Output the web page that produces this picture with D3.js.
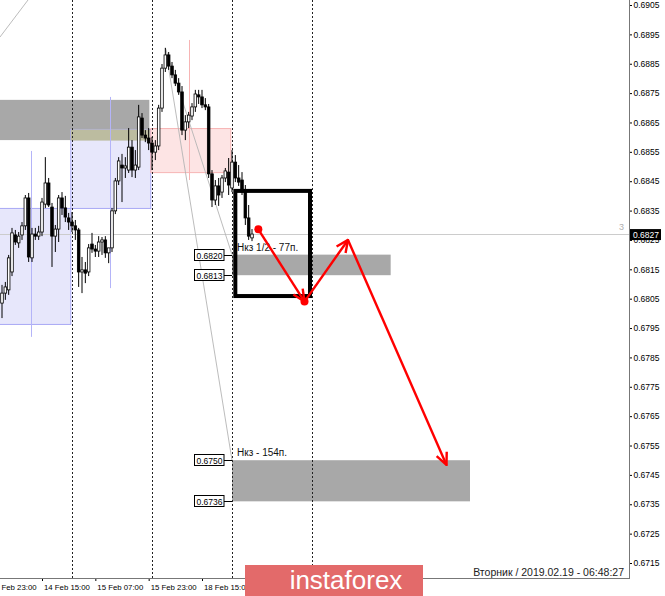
<!DOCTYPE html>
<html><head><meta charset="utf-8">
<script src="https://cdn.jsdelivr.net/npm/d3@7"></script>
<style>
body{margin:0;background:#fff;}
svg{display:block;font-family:"Liberation Sans",Arial,sans-serif;}
</style></head>
<body><svg id="c" width="665" height="596"></svg>
<script>
// ---- data (H1 bars, index 0 = 14 Feb 03:00 ... index 75 = 19 Feb 06:00) ----
const opens = [0.68035,0.68069,0.68080,0.68141,0.68267,0.68240,0.68267,0.68298,0.68393,0.68189,
0.68270,0.68263,0.68277,0.68372,0.68444,0.68362,0.68263,0.68287,0.68393,0.68359,
0.68325,0.68311,0.68298,0.68284,0.68141,0.68148,0.68141,0.68236,0.68219,0.68212,
0.68243,0.68250,0.68206,0.68223,0.68349,0.68451,0.68505,0.68495,0.68488,0.68566,
0.68488,0.68498,0.68665,0.68607,0.68597,0.68580,0.68549,0.68570,0.68699,0.68835,
0.68880,0.68842,0.68812,0.68784,0.68754,0.68624,0.68652,0.68672,0.68703,0.68744,
0.68737,0.68710,0.68703,0.68475,0.68386,0.68434,0.68413,0.68461,0.68481,0.68427,
0.68515,0.68461,0.68454,0.68413,0.68325,0.68257];
const highs = [0.68097,0.68107,0.68199,0.68291,0.68284,0.68277,0.68311,0.68403,0.68410,0.68291,
0.68291,0.68298,0.68393,0.68532,0.68461,0.68376,0.68301,0.68403,0.68413,0.68400,
0.68342,0.68345,0.68318,0.68291,0.68192,0.68175,0.68236,0.68274,0.68233,0.68263,
0.68260,0.68263,0.68223,0.68359,0.68461,0.68532,0.68543,0.68532,0.68631,0.68590,
0.68556,0.68710,0.68682,0.68624,0.68631,0.68601,0.68590,0.68710,0.68849,0.68904,
0.68890,0.68856,0.68829,0.68801,0.68774,0.68675,0.68686,0.68716,0.68761,0.68761,
0.68761,0.68733,0.68713,0.68488,0.68454,0.68461,0.68471,0.68495,0.68529,0.68556,
0.68539,0.68505,0.68481,0.68437,0.68369,0.68287];
const lows = [0.67984,0.68046,0.68063,0.68127,0.68233,0.68223,0.68250,0.68284,0.68175,0.68175,
0.68250,0.68250,0.68263,0.68359,0.68362,0.68158,0.68209,0.68243,0.68335,0.68311,
0.68284,0.68277,0.68250,0.68090,0.68069,0.68103,0.68127,0.68206,0.68192,0.68192,
0.68199,0.68189,0.68171,0.68209,0.68338,0.68437,0.68379,0.68461,0.68478,0.68464,
0.68461,0.68488,0.68597,0.68583,0.68556,0.68488,0.68522,0.68556,0.68686,0.68822,
0.68829,0.68801,0.68774,0.68744,0.68607,0.68590,0.68631,0.68658,0.68686,0.68713,
0.68699,0.68692,0.68461,0.68362,0.68369,0.68366,0.68393,0.68447,0.68403,0.68413,
0.68447,0.68434,0.68403,0.68301,0.68250,0.68246];
const closes = [0.68069,0.68090,0.68189,0.68274,0.68243,0.68263,0.68298,0.68393,0.68192,0.68270,
0.68263,0.68277,0.68379,0.68444,0.68369,0.68263,0.68287,0.68393,0.68359,0.68328,
0.68311,0.68298,0.68284,0.68141,0.68148,0.68137,0.68223,0.68219,0.68212,0.68243,
0.68250,0.68206,0.68223,0.68349,0.68451,0.68519,0.68495,0.68502,0.68566,0.68488,
0.68505,0.68669,0.68607,0.68597,0.68580,0.68549,0.68570,0.68699,0.68835,0.68880,
0.68842,0.68812,0.68784,0.68754,0.68624,0.68652,0.68675,0.68703,0.68747,0.68737,
0.68710,0.68703,0.68475,0.68386,0.68434,0.68403,0.68461,0.68485,0.68437,0.68515,
0.68461,0.68447,0.68413,0.68325,0.68263,0.68270];

const timeTickIndex  = [-4, 12, 28, 44, 60];
const timeTickLabels = ["13 Feb 23:00","14 Feb 15:00","15 Feb 07:00","15 Feb 23:00","18 Feb 15:00"];
const daySeparators  = [21, 45, 69, 93];
const priceTicks = [0.6905,0.6895,0.6885,0.6875,0.6865,0.6855,0.6845,0.6835,0.6825,0.6815,
0.6805,0.6795,0.6785,0.6775,0.6765,0.6755,0.6745,0.6735,0.6725,0.6715];
const lastPrice = 0.6827;

const grayZones = [
  {i0:-10, i1:44.2, top:0.68727, bot:0.68590},
  {i0:69,  i1:116.6, top:0.6820, bot:0.6813},
  {i0:69,  i1:140.4, top:0.6750, bot:0.6736}
];
const dayBoxes = [
  {i0:-3.5, i1:20.5, top:0.68359, bot:0.67964, li:8.7,  hi:0.68553, lo:0.67920, kind:"blue"},
  {i0:20.5, i1:44.5, top:0.68628, bot:0.68359, li:32.4, hi:0.68737, lo:0.68086, kind:"blue"},
  {i0:44.5, i1:68.5, top:0.68631, bot:0.68481, li:56.1, hi:0.68931, lo:0.68454, kind:"pink"}
];
const levelPrices = [0.6820, 0.6813, 0.6750, 0.6736];
const levelAnchor = 69;
const notes = [
  {i:70.5, p:0.68212, text:"Нкз 1/2 - 77п."},
  {i:70.5, p:0.67514, text:"Нкз - 154п."}
];
const trendLines = [
  {i0:-0.6, p0:0.68941, i1:7.8, p1:0.69067},
  {i0:49, p0:0.68904, i1:69, p1:0.6820},
  {i0:49, p0:0.68904, i1:69, p1:0.6750}
];
const targetBox = {i0:70, i1:92.4, top:0.68417, bot:0.68059};
const arrowPts = [
  {i:76.9, p:0.68286},
  {i:90.75, p:0.68040},
  {i:103.8, p:0.68250},
  {i:133.35, p:0.67484}
];
const dateText = "Вторник / 2019.02.19 - 06:48:27";
const logoText = "instaforex";

// ---- layout ----
const W = 665, H = 596, axisX = 629, axisY = 578;
const svg = d3.select("#c");
const x = d3.scaleLinear().domain([0, 75]).range([2, 252]);
const y = d3.scaleLinear().domain([0.6715, 0.6905]).range([563, 5]);

const defs = svg.append("defs");
defs.append("clipPath").attr("id","clip")
  .append("rect").attr("x",0).attr("y",0).attr("width",axisX).attr("height",axisY);
defs.append("marker").attr("id","ah").attr("markerUnits","userSpaceOnUse")
  .attr("viewBox","0 0 14 14").attr("refX",13).attr("refY",7)
  .attr("markerWidth",14).attr("markerHeight",14).attr("orient","auto")
  .append("path").attr("d","M1,1.5 L13,7 L1,12.5").attr("fill","none")
  .attr("stroke","#ff0000").attr("stroke-width",2.4);

svg.append("rect").attr("width",W).attr("height",H).attr("fill","#fff");
const g = svg.append("g").attr("clip-path","url(#clip)");

// gray zones
g.selectAll("rect.gz").data(grayZones).join("rect").attr("class","gz")
  .attr("x",d=>x(d.i0)).attr("width",d=>x(d.i1)-x(d.i0))
  .attr("y",d=>y(d.top)).attr("height",d=>y(d.bot)-y(d.top))
  .attr("fill","#a8a8a8");

// day boxes
g.selectAll("rect.db").data(dayBoxes).join("rect").attr("class","db")
  .attr("x",d=>x(d.i0)+0.5).attr("width",d=>x(d.i1)-x(d.i0))
  .attr("y",d=>y(d.top)+0.5).attr("height",d=>y(d.bot)-y(d.top))
  .attr("fill",d=>d.kind==="blue"?"#e7e7fb":"#fde4e4")
  .attr("stroke",d=>d.kind==="blue"?"#a8a8f5":"#f7b4b4").attr("stroke-width",1);
// overlap gray zone / day boxes
const ov = [];
grayZones.forEach(z=>dayBoxes.forEach(b=>{
  const a0=Math.max(z.i0,b.i0), a1=Math.min(z.i1,b.i1);
  const t=Math.min(z.top,b.top), bt=Math.max(z.bot,b.bot);
  if(a1>a0 && t>bt) ov.push({i0:a0,i1:a1,top:t,bot:bt});
}));
g.selectAll("rect.ov").data(ov).join("rect")
  .attr("x",d=>x(d.i0)+0.5).attr("width",d=>x(d.i1)-x(d.i0))
  .attr("y",d=>y(d.top)+0.5).attr("height",d=>y(d.bot)-y(d.top))
  .attr("fill","#bcbca0");
g.selectAll("line.dl").data(dayBoxes).join("line")
  .attr("x1",d=>Math.round(x(d.li))+0.5).attr("x2",d=>Math.round(x(d.li))+0.5)
  .attr("y1",d=>y(d.hi)).attr("y2",d=>y(d.lo))
  .attr("stroke",d=>d.kind==="blue"?"#b4b4f8":"#f7b4b4").attr("stroke-width",1);

// day separators
g.selectAll("line.sep").data(daySeparators).join("line")
  .attr("x1",d=>Math.round(x(d))+0.5).attr("x2",d=>Math.round(x(d))+0.5)
  .attr("y1",0).attr("y2",axisY)
  .attr("stroke","#222").attr("stroke-width",1).attr("stroke-dasharray","2,2");

// current price line
g.append("line").attr("x1",0).attr("x2",axisX)
  .attr("y1",Math.round(y(lastPrice))+0.5).attr("y2",Math.round(y(lastPrice))+0.5)
  .attr("stroke","#cccccc");
g.append("text").attr("x",619).attr("y",y(lastPrice)-4).text("3")
  .attr("font-size",9).attr("fill","#b0b0b0");

// trend / fibo lines
g.selectAll("line.tl").data(trendLines).join("line")
  .attr("x1",d=>x(d.i0)).attr("y1",d=>y(d.p0)).attr("x2",d=>x(d.i1)).attr("y2",d=>y(d.p1))
  .attr("stroke","#b4b4b4").attr("stroke-width",0.9);

// candles
const bars = opens.map((o,k)=>({i:k,o,h:highs[k],l:lows[k],c:closes[k]}));
g.selectAll("line.wick").data(bars).join("line")
  .attr("x1",d=>x(d.i)).attr("x2",d=>x(d.i))
  .attr("y1",d=>y(d.h)).attr("y2",d=>y(d.l)).attr("stroke","#000").attr("stroke-width",1);
g.selectAll("rect.body").data(bars).join("rect")
  .attr("x",d=>x(d.i)-1.3).attr("width",2.6)
  .attr("y",d=>y(Math.max(d.o,d.c)))
  .attr("height",d=>Math.max(0.8,Math.abs(y(d.o)-y(d.c))))
  .attr("fill",d=>d.c>=d.o?"#fff":"#000").attr("stroke","#000").attr("stroke-width",0.8);

// level labels
levelPrices.forEach(p=>{
  const yy = Math.round(y(p))+0.5;
  g.append("line").attr("x1",x(levelAnchor)-8).attr("x2",x(levelAnchor)).attr("y1",yy).attr("y2",yy)
    .attr("stroke","#000");
  g.append("rect").attr("x",x(levelAnchor)-37.5).attr("y",yy-6).attr("width",29.5).attr("height",11)
    .attr("fill","#fff").attr("stroke","#000");
  g.append("text").attr("x",x(levelAnchor)-22.5).attr("y",yy+3).attr("text-anchor","middle")
    .attr("font-size",8.5).attr("fill","#000").text(d3.format(".4f")(p));
});

// target box
g.append("rect").attr("x",x(targetBox.i0)).attr("width",x(targetBox.i1)-x(targetBox.i0))
  .attr("y",y(targetBox.top)).attr("height",y(targetBox.bot)-y(targetBox.top))
  .attr("fill","none").attr("stroke","#000").attr("stroke-width",4);

// notes
g.selectAll("text.note").data(notes).join("text")
  .attr("x",d=>x(d.i)).attr("y",d=>y(d.p)).attr("font-size",10).attr("fill","#111").text(d=>d.text);

// red arrows
for(let k=0;k<arrowPts.length-1;k++){
  const a=arrowPts[k], b=arrowPts[k+1];
  g.append("line").attr("x1",x(a.i)).attr("y1",y(a.p)).attr("x2",x(b.i)).attr("y2",y(b.p))
    .attr("stroke","#ff0000").attr("stroke-width",2.4).attr("marker-end","url(#ah)");
}
g.selectAll("circle.pt").data(arrowPts.slice(0,2)).join("circle")
  .attr("cx",d=>x(d.i)).attr("cy",d=>y(d.p)).attr("r",4).attr("fill","#ff0000");

// date text
svg.append("text").attr("x",624).attr("y",576).attr("text-anchor","end")
  .attr("font-size",10.5).attr("fill","#222").text(dateText);

// right axis
const ra = svg.append("g").attr("transform",`translate(${axisX},0)`)
  .call(d3.axisRight(y).tickValues(priceTicks).tickSize(3).tickPadding(1.5).tickFormat(d3.format(".4f")));
ra.select(".domain").remove();
ra.selectAll("text").attr("font-size",8.5).attr("fill","#000").attr("font-family","Liberation Sans, Arial, sans-serif");
ra.selectAll("line").attr("stroke","#000");
svg.append("line").attr("x1",axisX+0.5).attr("x2",axisX+0.5).attr("y1",0).attr("y2",axisY+1)
  .attr("stroke","#777").attr("stroke-width",1);

// last price tag
svg.append("rect").attr("x",axisX+1).attr("y",y(lastPrice)-5).attr("width",31).attr("height",11).attr("fill","#000");
svg.append("text").attr("x",axisX+4).attr("y",y(lastPrice)+3.5).attr("font-size",8.5).attr("fill","#fff")
  .text(d3.format(".4f")(lastPrice));

// bottom axis
const ba = svg.append("g").attr("transform",`translate(0,${axisY})`)
  .call(d3.axisBottom(x).tickValues(timeTickIndex).tickSize(3).tickFormat((d,k)=>timeTickLabels[k]));
ba.select(".domain").remove();
ba.selectAll("line").attr("stroke","#000");
ba.selectAll("text").attr("text-anchor","start").attr("dx",1.5).attr("y",6).attr("dy","0.71em")
  .attr("font-size",7.8).attr("fill","#000").attr("font-family","Liberation Sans, Arial, sans-serif");
svg.append("line").attr("x1",0).attr("x2",axisX+1).attr("y1",axisY+0.5).attr("y2",axisY+0.5)
  .attr("stroke","#777");

// logo
svg.append("rect").attr("x",245).attr("y",565).attr("width",178).attr("height",31).attr("fill","#e36a6a");
svg.append("text").attr("x",346).attr("y",589).attr("text-anchor","middle")
  .attr("font-size",26).attr("fill","#fff").text(logoText);
</script></body></html>
